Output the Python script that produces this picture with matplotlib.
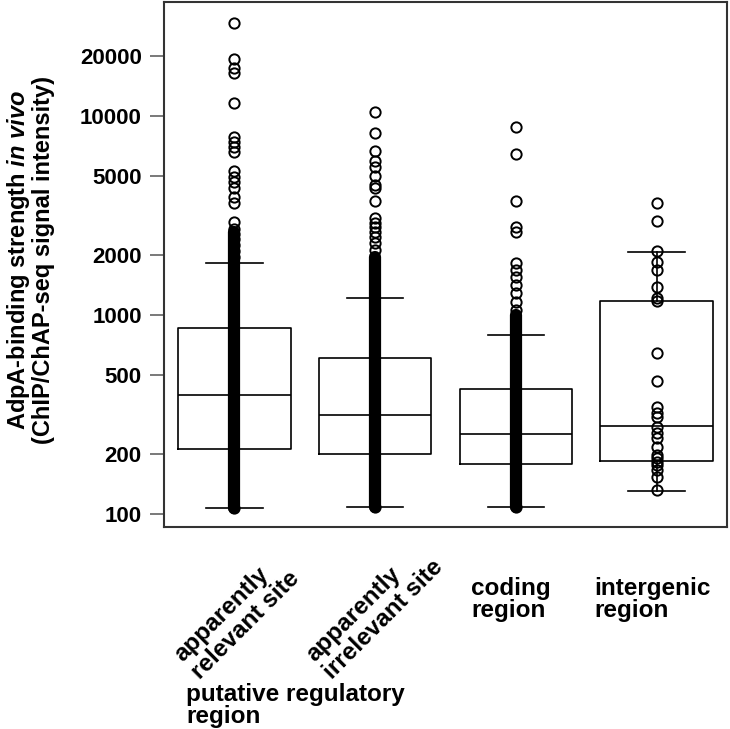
import matplotlib
matplotlib.use('Agg')
import matplotlib.pyplot as plt

plt.rcParams['font.family'] = ['Liberation Sans', 'DejaVu Sans']
plt.rcParams['font.weight'] = 'bold'
plt.rcParams['mathtext.fontset'] = 'custom'
plt.rcParams['mathtext.it'] = 'Liberation Sans:italic:bold'
plt.rcParams['mathtext.rm'] = 'Liberation Sans:bold'

# box statistics
med = [396, 314, 252, 277]
q1 = [212, 200, 178, 185]
q3 = [861, 608, 425, 1176]
whislo = [107, 108, 108, 130]
whishi = [1825, 1217, 793, 2074]

# individual points that stand apart from the dense column
pts1 = [29300, 19350, 17400, 16450, 11620, 7840, 7400, 6990, 6600, 5290, 4940,
        4660, 4350, 3920, 3650, 2930, 2700, 2550, 2400, 2250, 2100, 1950, 107]
pts2 = [10470, 8220, 6670, 5940, 5540, 4990, 4500, 4350, 3740, 3070, 2900,
        2770, 2610, 2470, 2300, 2120, 108]
pts3 = [8810, 6440, 3740, 2770, 2610, 1825, 1683, 1552, 1416, 1290, 1163,
        1060, 108]
pts4 = [3650, 2970, 2097, 1846, 1683, 1383, 1217, 1176, 644, 466, 345, 322,
        307, 274, 255, 241, 217, 198, 191, 183, 176, 166, 153, 132]
points = [pts1, pts2, pts3, pts4]

# range where the circles overlap into a solid column
dense_lo = [107, 108, 108, None]
dense_hi = [2600, 1955, 1000, None]

yticks = [100, 200, 500, 1000, 2000, 5000, 10000, 20000]
ylim = (86, 37400)

fig = plt.figure(figsize=(7.3, 7.29), dpi=100)
ax = fig.add_axes([164/730, 1-527/729, 563/730, 525/729])

stats = []
for i in range(4):
    stats.append(dict(med=med[i], q1=q1[i], q3=q3[i],
                      whislo=whislo[i], whishi=whishi[i], fliers=[]))
lp = dict(color='black', linewidth=1.2)
ax.bxp(stats, positions=[1, 2, 3, 4], widths=0.8, showfliers=False,
       boxprops=lp, medianprops=lp, whiskerprops=lp, capprops=lp,
       capwidths=0.4)

for i in range(4):
    x = i + 1
    if dense_lo[i] is not None:
        ax.plot([x, x], [dense_lo[i], dense_hi[i]], color='black', lw=8.8,
                solid_capstyle='round', zorder=4)
    ax.plot([x]*len(points[i]), points[i], 'o', mfc='none', mec='black',
            ms=7.4, mew=1.4, zorder=5)

ax.set_yscale('log')
ax.set_ylim(*ylim)
ax.set_xlim(0.5, 4.5)
ax.set_yticks(yticks)
ax.set_yticklabels([str(t) for t in yticks])
ax.yaxis.set_minor_locator(matplotlib.ticker.NullLocator())
ax.set_xticks([])
ax.tick_params(axis='y', length=10, width=1.1, color='#555555', pad=6,
               labelsize=16)
for s in ax.spines.values():
    s.set_linewidth(1.5)
    s.set_color('#333333')

fig.text(30/730, 1-260/729,
         'AdpA-binding strength $\\mathit{in\\ vivo}$\n(ChIP/ChAP-seq signal intensity)',
         rotation=90, ha='center', va='center', fontsize=17, linespacing=1.02)

fig.text(170/730, 1-650/729, 'apparently\nrelevant site', rotation=45,
         rotation_mode='anchor', ha='left', va='top', fontsize=17.5,
         linespacing=1.1)
fig.text(302/730, 1-650/729, 'apparently\nirrelevant site', rotation=45,
         rotation_mode='anchor', ha='left', va='top', fontsize=17.5,
         linespacing=1.1)
fig.text(471/730, 1-577/729, 'coding\nregion', ha='left', va='top',
         fontsize=17.5, linespacing=0.92)
fig.text(594/730, 1-577/729, 'intergenic\nregion', ha='left', va='top',
         fontsize=17.5, linespacing=0.92)
fig.text(186/730, 1-683/729, 'putative regulatory\nregion', ha='left',
         va='top', fontsize=17.5, linespacing=0.92)

fig.savefig('out.png', dpi=100)
